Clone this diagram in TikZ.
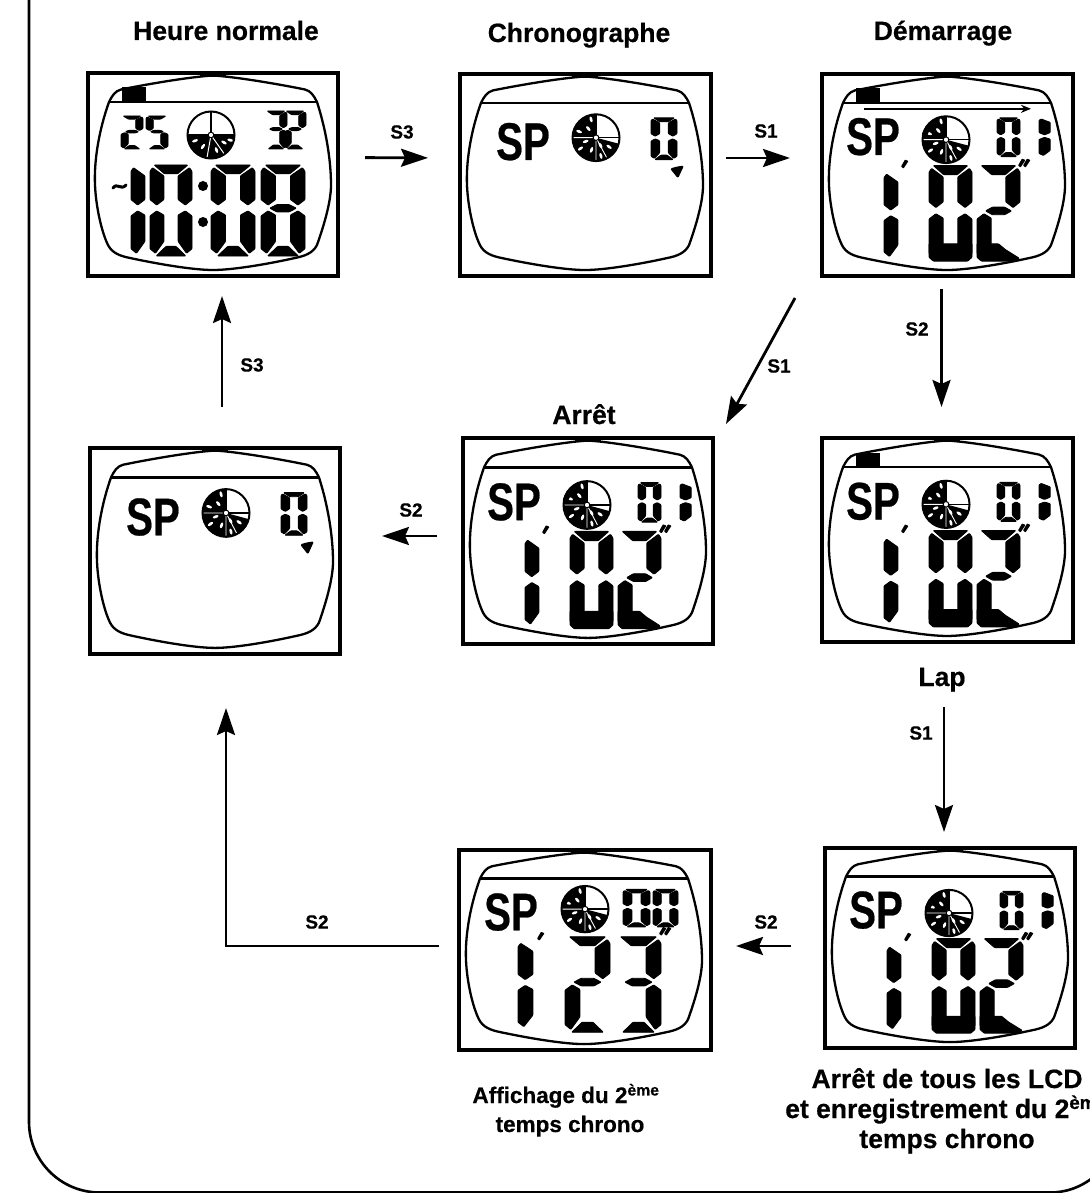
\documentclass[tikz,border=0pt]{standalone}
\usepackage{fontspec}
\usepackage{graphicx}
\setmainfont{Liberation Sans}[BoldFeatures={FakeBold=0.5}]
\usetikzlibrary{arrows.meta,calc}
\newcommand\sgT{\filldraw (.10,0)--(.90,0)--(.66,.095)--(.34,.095)--cycle;}
\newcommand\sgUL{\filldraw (0,.07)--(.06,.03)--(.33,.12)--(.33,.38)--(.16,.44)--(0,.38)--cycle;}
\newcommand\sgUR{\filldraw (1,.07)--(.94,.03)--(.67,.12)--(.67,.38)--(.84,.44)--(1,.38)--cycle;}
\newcommand\sgM{\filldraw (.2,.475)--(.36,.435)--(.64,.435)--(.8,.475)--(.64,.515)--(.36,.515)--cycle;}
\newcommand\sgLL{\filldraw (0,.56)--(.16,.505)--(.33,.55)--(.33,.84)--(.13,.97)--(0,.92)--cycle;}
\newcommand\sgLR{\filldraw (1,.56)--(.84,.505)--(.67,.55)--(.67,.84)--(.87,.97)--(1,.92)--cycle;}
\newcommand\sgB{\filldraw (.15,1)--(.38,.895)--(.62,.895)--(.85,1)--cycle;}
\newcommand\sgU{\filldraw (0,.82)--(1,.82)--(1,.96)--(.9,1)--(.1,1)--(0,.96)--cycle;}
\newcommand\sgL{\filldraw (0,.82)--(.5,.82)--(.66,.88)--(.98,.97)--(.9,1)--(.1,1)--(0,.96)--cycle;}
\newcommand\dg[5]{\begin{scope}[shift={(#1,#2)},x=#3pt,y=-#4pt,rounded corners=.7pt,line width=.9pt,line join=round]#5\end{scope}}
\newcommand\tick[2]{\fill[rounded corners=.6pt] (#1,#2) -- ++(4,-7) -- ++(3.5,1.5) -- ++(-5,7.5) -- cycle;}
\newcommand\heart[2]{\fill[rounded corners=1.5pt] (#1-7,#2-3) -- (#1,#2-5) -- (#1+7,#2-6) -- (#1+1,#2+7) -- cycle;}
% dial: kind 1 = lower half dark, kind 2 = all but upper-right quadrant dark
\newcommand\dial[3]{%
  \begin{scope}[shift={(#1,#2)},y=1pt]
    \ifnum#3=1
      \fill (0,0) -- (180:24) arc[start angle=180,end angle=360,radius=24] -- cycle;
      \foreach \a/\r in {200/17,235/14,290/16,330/15,345/20}{\fill[white,rotate around={\a:(0,0)}] (\r,0) ellipse[x radius=3,y radius=1.4];}
      \draw[white,line width=1] (0,0) -- (260:24) (0,0) -- (305:24);
      \draw[line width=1.4] (-24,0) -- (24,0) (0,24) -- (0,0);
    \else
      \fill (0,0) -- (90:24) arc[start angle=90,end angle=345,radius=24] -- cycle;
      \foreach \a/\r in {105/19,130/12,160/18,200/11,215/19,250/13,285/19,300/9,325/16}{\fill[white,rotate around={\a:(0,0)}] (\r,0) ellipse[x radius=3,y radius=1.4];}
      \draw[white,line width=.9] (0,0) -- (0,-24) (0,0) -- (-24,0) (0,0) -- (-62:24);
      \draw[line width=1.4] (0,0) -- (24,0) (0,0) -- (0,24);
    \fi
    \draw[fill=white,line width=1] (0,0) circle[radius=2.8];
    \draw[line width=2] (0,0) circle[radius=23.5];
  \end{scope}}
\tikzset{
  lbl/.style={font=\bfseries\fontsize{26.5}{29}\selectfont,align=center,inner sep=0pt,anchor=base},
  lbs/.style={lbl,font=\bfseries\fontsize{22.5}{29}\selectfont},
  sml/.style={font=\bfseries\fontsize{19}{20}\selectfont,inner sep=0pt},
  lcdframe/.style={draw,line width=3.2pt,anchor=north west,inner sep=0pt,outer sep=0pt},
  spt/.style={font=\bfseries\addfontfeature{FakeBold=1.5}\fontsize{53}{53}\selectfont,inner sep=0pt,anchor=center},
  conn/.style={line width=2.8pt,-{Stealth[length=27pt,width=18pt,inset=4pt]}}
}
% frame + screen outline; after it the local origin is the frame's top-left
\newcommand\lcd[6]{%
  \node[lcdframe,minimum width=#4pt,minimum height=#5pt] (#1) at (#2,#3) {};
  \begin{scope}[shift={(#2,#3)},yscale=#5/203]
    \draw[line width=2.3pt,line join=round]
      (125,2.5) .. controls (100,4) and (55,12) .. (33,16.5) .. controls (27,18) and (24,23) .. (21,29)
      .. controls (10,60) and (6,90) .. (7,112) .. controls (8,135) and (14,160) .. (20,172)
      .. controls (24,180) and (32,183) .. (42,185) .. controls (70,191) and (105,197) .. (125,197)
      .. controls (145,197) and (180,191) .. (207,185) .. controls (217,183) and (225,180) .. (229,172)
      .. controls (235,155) and (243,130) .. (243,112) .. controls (243,90) and (239,60) .. (229,29)
      .. controls (226,23) and (223,18) .. (217,16.5) .. controls (195,12) and (150,4) .. (125,2.5) -- cycle;
    \draw[line width=2.3pt] (21,29) -- (229,29);
    \fill (112,1) rectangle (138,4);
    #6
  \end{scope}}
\newcommand\blockmark{\fill (34,14.5) rectangle (58,29);}
\newcommand\chronoA{%
  \node[spt] (sp) at (51,63) {\scalebox{.76}[1]{SP}};
  \dial{124}{66}{2}
  \fill (100,60) -- (104,52) -- (108,56) -- (105,62) -- cycle;
  \dg{175}{44}{23}{39}{\sgT\sgUL\sgUR\sgLL\sgLR\sgB}
  \dg{217}{44}{34}{39}{\sgUL\sgLL}
  \dg{62}{98}{42}{88}{\sgUL\sgLL}
  \tick{79}{93}
  \dg{107}{92}{43}{96}{\sgT\sgUL\sgUR\sgLL\sgLR\sgU}
  \dg{155}{92}{43}{96}{\sgT\sgUR\sgM\sgLL\sgL}
  \tick{196}{92}
  \tick{201}{92}}
\newcommand\chronoB{%
  \node[spt] (sp) at (63,68) {\scalebox{.76}[1]{SP}};
  \dial{136}{64}{2}
  \dg{191}{44}{26}{42}{\sgT\sgUL\sgUR\sgLL\sgLR\sgB}
  \heart{217}{98}}
\begin{document}
\begin{tikzpicture}[x=1pt,y=-1pt]
\useasboundingbox (0,0) rectangle (1089,1193);
% outer outline
\draw[line width=2.6pt] (29,-5) -- (29,1122) .. controls (29,1160) and (60,1192.5) .. (100,1192.5) -- (1050,1192.5) .. controls (1065,1192.5) and (1080,1188) .. (1095,1176);
% displays
\lcd{fa}{88}{73}{250}{203}{%
  \blockmark
  \dg{33}{43}{22}{33}{\sgT\sgUR\sgM\sgLL\sgB}
  \dg{58}{43}{22}{33}{\sgT\sgUL\sgM\sgLR\sgB}
  \dial{123}{62}{1}
  \dg{177}{38}{22}{38}{\sgT\sgUR\sgM\sgLR\sgB}
  \dg{196}{38}{22}{38}{\sgT\sgUR\sgM\sgLL\sgB}
  \draw[line width=3pt,line cap=round] (25,115) .. controls (29,109) and (33,118) .. (38,112);
  \dg{43}{92}{42}{91}{\sgUL\sgLL}
  \dg{62}{92}{42}{91}{\sgT\sgUL\sgUR\sgLL\sgLR\sgB}
  \fill (115,113) circle[radius=5] (115,149) circle[radius=5];
  \dg{123}{92}{44}{91}{\sgT\sgUL\sgUR\sgLL\sgLR\sgB}
  \dg{173}{92}{44}{91}{\sgT\sgUL\sgUR\sgM\sgLL\sgLR\sgB}}
\lcd{fb}{460}{74}{251}{202}{\chronoB}
\lcd{fc}{822}{74}{251}{202}{\blockmark\chronoA
  \draw[line width=1.8pt,-{Stealth[length=10pt,width=8pt]}] (42,35) -- (209,35);}
\lcd{fd}{90}{448}{250}{206}{\chronoB}
\lcd{fe}{463}{438}{250}{206}{\chronoA}
\lcd{ff}{822}{438}{251}{204}{\blockmark\chronoA}
\lcd{fg}{459}{850}{252}{200}{%
  \node[spt] (sp) at (52,63) {\scalebox{.76}[1]{SP}};
  \dial{126}{60}{2}
  \fill (102,54) -- (106,46) -- (110,50) -- (107,56) -- cycle;
  \dg{164}{40}{27}{38}{\sgT\sgUL\sgUR\sgLL\sgLR\sgB}
  \dg{194}{40}{25}{38}{\sgT\sgUL\sgUR\sgLL\sgLR\sgB}
  \dg{59}{92}{45}{90}{\sgUL\sgLL}
  \tick{78}{90}
  \dg{106}{88}{45}{97}{\sgT\sgUR\sgM\sgLL\sgB}
  \dg{157}{88}{45}{97}{\sgT\sgUR\sgM\sgLR\sgB}
  \tick{200}{85}
  \tick{205}{85}}
\lcd{fh}{825}{848}{250}{200}{\chronoA}
% titles
\node[lbl] (t1) at (226,40) {Heure normale};
\node[lbl] (t2) at (579,42) {Chronographe};
\node[lbl] (t3) at (943,40) {Démarrage};
\node[lbl] (t5) at (584,424) {Arrêt};
\node[lbl] (t6) at (942,686) {Lap};
\node[lbs] (t7a) at (566,1103) {Affichage du 2\textsuperscript{ème}};
\node[lbs] (t7b) at (570,1132) {temps chrono};
\node[lbl] (t8a) at (947,1088) {Arrêt de tous les LCD};
\node[lbl,anchor=base west] (t8b) at (785,1118) {et enregistrement du 2\textsuperscript{ème}};
\node[lbl] (t8c) at (947,1148) {temps chrono};
% connectors
\draw[conn,shorten <=27pt,shorten >=32pt] ([yshift=17pt]fa.east) -- ([yshift=17pt]fb.west);
\draw[conn,shorten <=15pt,shorten >=32pt] ([yshift=17pt]fb.east) -- ([yshift=17pt]fc.west);
\draw[conn,shorten <=13pt,shorten >=31pt] ([xshift=-6pt]fc.south) -- ([xshift=-6pt]ff.north);
\coordinate (d3) at (795,298);
\coordinate (d5) at (726,424);
\draw[conn] (d3) -- (d5);
\draw[conn,shorten <=26pt,shorten >=42pt] (fe.west |- 0,536) -- (fd.east |- 0,536);
\draw[conn,shorten <=41pt,shorten >=20pt] ([xshift=7pt]fd.north) -- ([xshift=9pt]fa.south);
\draw[conn,shorten <=65pt,shorten >=16pt] ([xshift=-3.5pt]ff.south) -- ([xshift=-6pt]fh.north);
\draw[conn,shorten <=34pt,shorten >=25pt] (fh.west |- 0,946) -- (fg.east |- 0,946);
\draw[conn,shorten <=20pt,shorten >=54pt] ([yshift=4pt]fg.west) -| ([xshift=11pt]fd.south);
% connector labels
\node[sml] (l1) at (402,132) {S3};
\node[sml] (l2) at (766,131) {S1};
\node[sml] (l3) at (917,329) {S2};
\node[sml] (l4) at (779,366) {S1};
\node[sml] (l5) at (252,365) {S3};
\node[sml] (l6) at (411,510) {S2};
\node[sml] (l7) at (921,733) {S1};
\node[sml] (l8) at (317,922) {S2};
\node[sml] (l9) at (766,922) {S2};
\end{tikzpicture}
\end{document}
